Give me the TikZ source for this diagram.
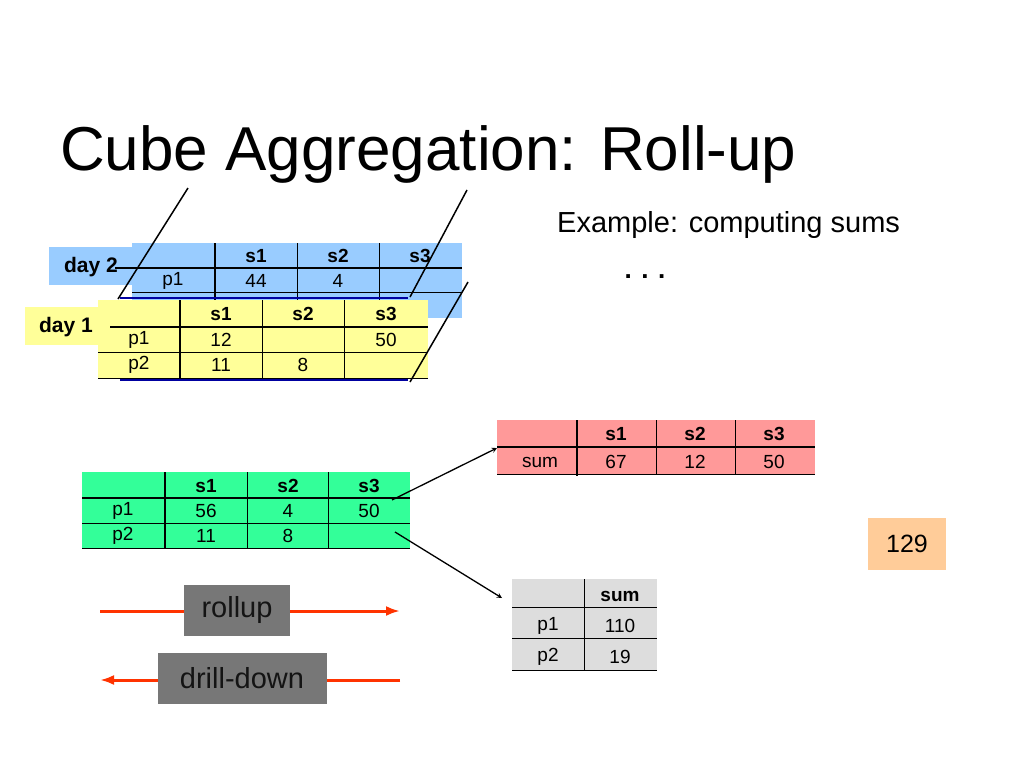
\documentclass[tikz,border=0pt]{standalone}
\usepackage{fontspec}
\setmainfont{Liberation Sans}
\begin{document}
\begin{tikzpicture}[x=1pt,y=-1pt,
  thick line/.style={line width=2.2pt,black},
  thin line/.style={line width=0.9pt,black},
  tx/.style={font=\fontsize{19}{19}\selectfont,inner sep=0pt,anchor=center},
  bx/.style={font=\bfseries\fontsize{19}{19}\selectfont,inner sep=0pt,anchor=center},
  lbl/.style={font=\bfseries\fontsize{21}{21}\selectfont,inner sep=0pt},
  conn/.style={line width=1.3pt,-stealth},
  redarrow/.style={line width=3pt,draw={rgb,255:red,255;green,51;blue,0},-{Latex[length=14pt,width=10pt]}}]
\usetikzlibrary{arrows.meta}
\definecolor{dblue}{RGB}{153,204,255}
\definecolor{dyellow}{RGB}{255,255,153}
\definecolor{dgreen}{RGB}{51,255,153}
\definecolor{dpink}{RGB}{255,153,153}
\definecolor{dgray}{RGB}{221,221,221}
\definecolor{dorange}{RGB}{255,204,153}
\definecolor{navy}{RGB}{0,0,160}
\useasboundingbox[fill=white] (0,0) rectangle (1024,768);
\node[anchor=base west,inner sep=0pt,font=\fontsize{62}{62}\selectfont] (title) at (60,170) {Cube Aggregation: Roll-up};
\node[anchor=base west,inner sep=0pt,font=\fontsize{29}{29}\selectfont] (ex) at (557,232) {Example: computing sums};
\node[inner sep=0pt,font=\bfseries\fontsize{26}{26}\selectfont] (dots) at (645,277) {. . .};
% day 2
\fill[dblue] (132,243) rectangle (462,318);
\fill[dblue] (49,247) rectangle (132,285);
\node[lbl] (d2) at (91,267) {day 2};
\draw[thick line] (115,268) -- (462,268);
\draw[thin line] (132,292) -- (462,292);
\draw[thick line] (215,243) -- (215,318);
\draw[thin line] (297,243) -- (297,318);
\draw[thin line] (379,243) -- (379,318);
\node[bx] (a1) at (256,256) {s1};
\node[bx] (a2) at (338,256) {s2};
\node[bx] (a3) at (420,256) {s3};
\node[tx] (ap) at (173,281) {p1};
\node[tx] (a44) at (256,281) {44};
\node[tx] (a4) at (338,281) {4};
\draw[navy,line width=2.5pt] (120,298) -- (408,298);
% day 1
\fill[dyellow] (98,300) rectangle (428,378);
\fill[dyellow] (25,307) rectangle (110,345);
\node[lbl] (d1) at (66,327) {day 1};
\draw[thick line] (110,327) -- (428,327);
\draw[thin line] (98,352) -- (428,352);
\draw[thin line] (98,378) -- (428,378);
\draw[thick line] (180,300) -- (180,378);
\draw[thin line] (262,300) -- (262,378);
\draw[thin line] (344,300) -- (344,378);
\node[bx] (b1) at (221,314) {s1};
\node[bx] (b2) at (303,314) {s2};
\node[bx] (b3) at (386,314) {s3};
\node[tx] (bp1) at (139,340) {p1};
\node[tx] (bp2) at (139,365) {p2};
\node[tx] (b12) at (221,340) {12};
\node[tx] (b50) at (386,340) {50};
\node[tx] (b11) at (221,365) {11};
\node[tx] (b8) at (303,365) {8};
\draw[navy,line width=2.5pt] (120,380) -- (408,380);
\draw[line width=1.5pt] (118,299) -- (188,188);
\draw[line width=1.5pt] (410,297) -- (467,190);
\draw[line width=1.5pt] (410,382) -- (468,282);
% green
\fill[dgreen] (82,472) rectangle (410,548);
\draw[thick line] (82,498) -- (410,498);
\draw[thin line] (82,523) -- (410,523);
\draw[thin line] (82,548) -- (410,548);
\draw[thick line] (165,472) -- (165,548);
\draw[thin line] (247,472) -- (247,548);
\draw[thin line] (328,472) -- (328,548);
\node[bx] (g1) at (206,486) {s1};
\node[bx] (g2) at (288,486) {s2};
\node[bx] (g3) at (369,486) {s3};
\node[tx] (gp1) at (123,511) {p1};
\node[tx] (gp2) at (123,536) {p2};
\node[tx] (g56) at (206,511) {56};
\node[tx] (g4) at (288,511) {4};
\node[tx] (g50) at (369,511) {50};
\node[tx] (g11) at (206,536) {11};
\node[tx] (g8) at (288,536) {8};
\coordinate (gs) at (392,500);
\coordinate (gd) at (395,532);
% pink
\fill[dpink] (497,420) rectangle (815,474);
\draw[thick line] (497,447) -- (815,447);
\draw[thin line] (497,474) -- (815,474);
\draw[thick line] (577,420) -- (577,476);
\draw[thin line] (656,420) -- (656,474);
\draw[thin line] (735,420) -- (735,474);
\node[bx] (p1h) at (616,434) {s1};
\node[bx] (p2h) at (695,434) {s2};
\node[bx] (p3h) at (774,434) {s3};
\node[tx] (psum) at (540,462) {sum};
\node[tx] (p67) at (616,462) {67};
\node[tx] (p12) at (695,462) {12};
\node[tx] (p50) at (774,462) {50};
\coordinate (pin) at (497,448);
% gray
\fill[dgray] (512,579) rectangle (657,670);
\draw[thin line] (512,607) -- (657,607);
\draw[thin line] (512,638) -- (657,638);
\draw[thin line] (512,670) -- (657,670);
\draw[thin line] (584,579) -- (584,670);
\node[bx] (qs) at (620,596) {sum};
\node[tx] (qp1) at (548,626) {p1};
\node[tx] (qp2) at (548,657) {p2};
\node[tx] (q110) at (620,626) {110};
\node[tx] (q19) at (620,657) {19};
\coordinate (qin) at (502,598);
\draw[conn] (gs) -- (pin);
\draw[conn] (gd) -- (qin);
% 129
\node[fill=dorange,minimum width=78pt,minimum height=52pt,inner sep=0pt,font=\fontsize{25}{25}\selectfont] (n129) at (907,544) {129};
% rollup / drill-down
\coordinate (r0) at (100,611); \coordinate (r1) at (400,611);
\coordinate (d0) at (400,680); \coordinate (dd1) at (100,680);
\draw[redarrow] (r0) -- (r1);
\draw[redarrow] (d0) -- (dd1);
\node[fill={rgb,255:red,119;green,119;blue,119},minimum width=106pt,minimum height=51pt,inner sep=0pt,font=\fontsize{29}{29}\selectfont,text={rgb,255:red,20;green,20;blue,20}] (roll) at (237,610) {rollup};
\node[fill={rgb,255:red,119;green,119;blue,119},minimum width=169pt,minimum height=51pt,inner sep=0pt,font=\fontsize{29}{29}\selectfont,text={rgb,255:red,20;green,20;blue,20}] (drill) at (242,678) {drill-down};
\end{tikzpicture}
\end{document}
